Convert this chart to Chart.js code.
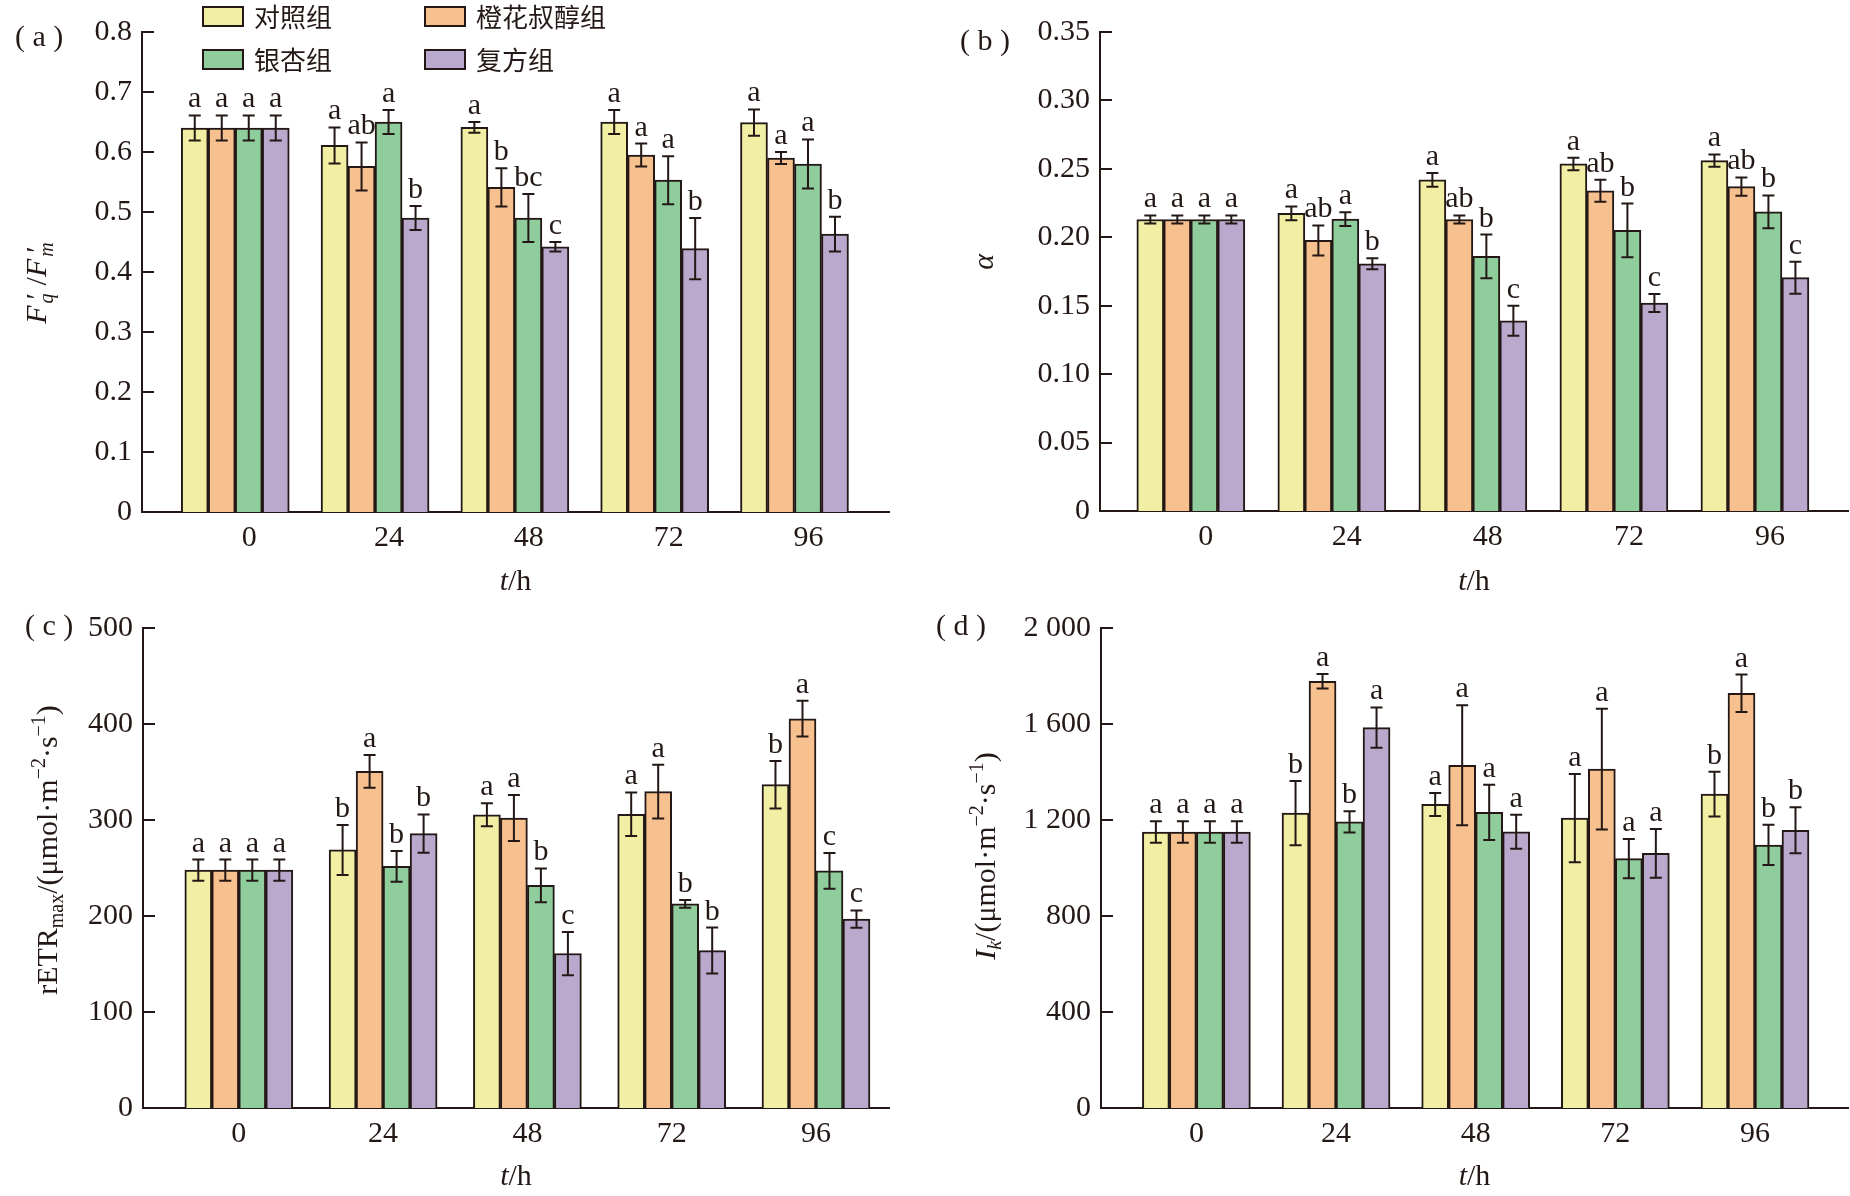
<!DOCTYPE html>
<html><head><meta charset="utf-8">
<script src="https://cdn.jsdelivr.net/npm/chart.js@4.4.1/dist/chart.umd.min.js"></script>
<style>
html,body{margin:0;padding:0;background:#fff;width:1850px;height:1196px;overflow:hidden}
.p{position:absolute}
</style></head><body>
<div class="p" style="left:0;top:0"><canvas id="ca" width="925" height="600"></canvas></div>
<div class="p" style="left:925px;top:0"><canvas id="cb" width="925" height="600"></canvas></div>
<div class="p" style="left:0;top:600px"><canvas id="cc" width="925" height="596"></canvas></div>
<div class="p" style="left:925px;top:600px"><canvas id="cd" width="925" height="596"></canvas></div>
<script>
// ---- categories ----
const times = ['0', '24', '48', '72', '96'];
const groupNames = ['对照组', '橙花叔醇组', '银杏组', '复方组'];
const groupColors = ['#F1EFA4', '#F7C08F', '#8FCD9D', '#B8A9CD'];

// ---- (a) Fq'/Fm' ----
const fqCtrl = [0.640, 0.611, 0.641, 0.650, 0.649];
const fqNer  = [0.640, 0.576, 0.541, 0.595, 0.590];
const fqGin  = [0.640, 0.650, 0.490, 0.553, 0.580];
const fqCmp  = [0.640, 0.490, 0.442, 0.439, 0.463];
const fqCtrlErr = [0.021, 0.030, 0.009, 0.020, 0.022];
const fqNerErr  = [0.021, 0.040, 0.032, 0.019, 0.010];
const fqGinErr  = [0.021, 0.020, 0.040, 0.040, 0.041];
const fqCmpErr  = [0.021, 0.020, 0.008, 0.051, 0.029];
const fqCtrlSig = ['a', 'a', 'a', 'a', 'a'];
const fqNerSig  = ['a', 'ab', 'b', 'a', 'a'];
const fqGinSig  = ['a', 'a', 'bc', 'a', 'a'];
const fqCmpSig  = ['a', 'b', 'c', 'b', 'b'];

// ---- (b) alpha ----
const alCtrl = [0.213, 0.2175, 0.242, 0.2536, 0.256];
const alNer  = [0.213, 0.1977, 0.213, 0.234, 0.237];
const alGin  = [0.213, 0.2133, 0.186, 0.205, 0.2186];
const alCmp  = [0.213, 0.1806, 0.139, 0.152, 0.1705];
const alCtrlErr = [0.003, 0.005, 0.005, 0.0046, 0.0045];
const alNerErr  = [0.003, 0.011, 0.003, 0.008, 0.0067];
const alGinErr  = [0.003, 0.005, 0.016, 0.0196, 0.012];
const alCmpErr  = [0.003, 0.004, 0.011, 0.0066, 0.0117];
const alCtrlSig = ['a', 'a', 'a', 'a', 'a'];
const alNerSig  = ['a', 'ab', 'ab', 'ab', 'ab'];
const alGinSig  = ['a', 'a', 'b', 'b', 'b'];
const alCmpSig  = ['a', 'b', 'c', 'c', 'c'];

// ---- (c) rETRmax ----
const reCtrl = [247.8, 268.8, 305.5, 306.0, 336.8];
const reNer  = [247.8, 350.6, 302.0, 329.6, 405.5];
const reGin  = [247.8, 251.8, 232.0, 212.6, 247.0];
const reCmp  = [247.8, 285.8, 160.9, 164.0, 196.8];
const reCtrlErr = [11, 26, 12, 22.7, 24.7];
const reNerErr  = [11, 17, 24, 28, 18.6];
const reGinErr  = [11, 16, 17.6, 4, 18.6];
const reCmpErr  = [11, 20, 22.5, 24, 9];
const reCtrlSig = ['a', 'b', 'a', 'a', 'b'];
const reNerSig  = ['a', 'a', 'a', 'a', 'a'];
const reGinSig  = ['a', 'b', 'b', 'b', 'c'];
const reCmpSig  = ['a', 'b', 'c', 'b', 'c'];

// ---- (d) Ik ----
const ikCtrl = [1150, 1229, 1265, 1208, 1308];
const ikNer  = [1150, 1778, 1428, 1412, 1728];
const ikGin  = [1150, 1192, 1232, 1039, 1096];
const ikCmp  = [1150, 1585, 1151, 1061, 1157];
const ikCtrlErr = [45, 134, 48, 184, 93];
const ikNerErr  = [45, 30, 250, 252, 78];
const ikGinErr  = [45, 44, 115, 82, 84];
const ikCmpErr  = [45, 84, 71, 102, 96];
const ikCtrlSig = ['a', 'b', 'a', 'a', 'b'];
const ikNerSig  = ['a', 'a', 'a', 'a', 'a'];
const ikGinSig  = ['a', 'b', 'a', 'a', 'b'];
const ikCmpSig  = ['a', 'a', 'a', 'a', 'b'];

// ---- drawing helpers ----
const INK = '#231815';
const SERIF = '"Liberation Serif", "Times New Roman", serif';
const CJK = '"Noto Sans CJK SC", sans-serif';

function drawRich(ctx, segs, cx, cy, rotate) {
  let w = 0;
  const items = segs.map(s => {
    const size = s.size || 30;
    const font = (s.it ? 'italic ' : '') + size + 'px ' + SERIF;
    ctx.font = font;
    const width = ctx.measureText(s.t).width;
    const item = { s, font, x: w + (s.pre || 0) };
    w += (s.adv === 0 ? 0 : width) + (s.gap || 0);
    return item;
  });
  ctx.save();
  ctx.translate(cx, cy);
  if (rotate) ctx.rotate(-Math.PI / 2);
  ctx.fillStyle = INK;
  ctx.textBaseline = 'alphabetic';
  ctx.textAlign = 'left';
  items.forEach(it => { ctx.font = it.font; ctx.fillText(it.s.t, it.x - w / 2, it.s.dy || 0); });
  ctx.restore();
}

const decor = {
  id: 'decor',
  afterDatasetsDraw(chart, args, o) {
    const ctx = chart.ctx, ys = chart.scales.y;
    ctx.save();
    ctx.strokeStyle = INK; ctx.lineWidth = 2;
    ctx.fillStyle = INK;
    ctx.font = '30px ' + SERIF;
    ctx.textAlign = 'center'; ctx.textBaseline = 'alphabetic';
    chart.data.datasets.forEach((ds, di) => {
      const meta = chart.getDatasetMeta(di);
      meta.data.forEach((bar, i) => {
        const v = ds.data[i].y, e = o.errors[di][i];
        const x = bar.x;
        const yt = ys.getPixelForValue(v + e), yb = ys.getPixelForValue(v - e);
        ctx.beginPath();
        ctx.moveTo(x, yt); ctx.lineTo(x, yb);
        ctx.moveTo(x - 6, yt); ctx.lineTo(x + 6, yt);
        ctx.moveTo(x - 6, yb); ctx.lineTo(x + 6, yb);
        ctx.stroke();
        ctx.fillText(o.letters[di][i], x, yt - 8);
      });
    });
    ctx.restore();
  },
  afterDraw(chart, args, o) {
    const ctx = chart.ctx, ys = chart.scales.y, ca = chart.chartArea;
    ctx.save();
    ctx.strokeStyle = INK; ctx.lineWidth = 2;
    ys.ticks.forEach(t => {
      const y = Math.round(ys.getPixelForValue(t.value));
      ctx.beginPath(); ctx.moveTo(ca.left, y); ctx.lineTo(ca.left + 12, y); ctx.stroke();
    });
    ctx.restore();
    drawRich(ctx, o.yTitle, o.yTitleX, o.yTitleY, true);
    drawRich(ctx, [{ t: 't', it: true }, { t: '/h' }], (ca.left + ca.right) / 2, o.xTitleBase, false);
    ctx.save();
    ctx.fillStyle = INK; ctx.font = '30px ' + SERIF;
    ctx.textAlign = 'left'; ctx.textBaseline = 'middle';
    ctx.fillText(o.panel, o.panelX, o.panelY);
    ctx.restore();
    if (o.legend) {
      ctx.save();
      chart.data.datasets.forEach((ds, di) => {
        const bx = o.legend.cols[di % 2], by = o.legend.rows[Math.floor(di / 2)];
        ctx.fillStyle = ds.backgroundColor;
        ctx.fillRect(bx, by, 40, 19);
        ctx.strokeStyle = INK; ctx.lineWidth = 2;
        ctx.strokeRect(bx, by, 40, 19);
        ctx.fillStyle = INK; ctx.font = '26px ' + CJK;
        ctx.textAlign = 'left'; ctx.textBaseline = 'middle';
        ctx.fillText(ds.label, bx + 51, by + 10);
      });
      ctx.restore();
    }
  }
};

function makeChart(id, p) {
  const datasets = p.values.map((vals, di) => ({
    label: groupNames[di],
    data: vals.map((v, i) => ({ x: i, y: v })),
    backgroundColor: groupColors[di],
    borderColor: INK,
    borderWidth: 2,
    borderSkipped: 'bottom',
    barThickness: 27
  }));
  return new Chart(document.getElementById(id), {
    type: 'bar',
    data: { datasets },
    plugins: [decor],
    options: {
      responsive: false,
      animation: false,
      devicePixelRatio: 1,
      layout: { padding: { top: p.padTop, right: p.padRight, left: 0, bottom: 0 } },
      plugins: {
        legend: { display: false },
        tooltip: { enabled: false },
        decor: {
          errors: p.errors, letters: p.letters,
          yTitle: p.yTitle, yTitleX: p.yTitleX, yTitleY: p.yTitleY,
          xTitleBase: p.xTitleBase, panel: p.panel, panelX: p.panelX, panelY: p.panelY,
          legend: p.legend || null
        }
      },
      scales: {
        x: {
          type: 'linear', min: p.xMin, max: p.xMax, offset: false,
          grid: { display: false, drawTicks: false, offset: false },
          border: { display: true, width: 2, color: INK },
          afterBuildTicks: s => { s.ticks = times.map((t, i) => ({ value: i })); },
          afterFit: s => { s.height = p.bottomH; },
          ticks: {
            autoSkip: false, maxRotation: 0, padding: p.xTickPad, labelOffset: p.labelOffset,
            color: INK, font: { family: SERIF, size: 30 },
            callback: v => times[v]
          }
        },
        y: {
          min: p.yMin, max: p.yMax,
          grid: { display: false, drawTicks: false },
          border: { display: true, width: 2, color: INK },
          afterFit: s => { s.width = p.leftW; },
          ticks: {
            stepSize: p.yStep, padding: 10, color: INK,
            font: { family: SERIF, size: 30 },
            callback: p.yFmt
          }
        }
      }
    }
  });
}

const numSpace = v => {
  const s = String(Math.round(v));
  return s.length > 3 ? s.slice(0, s.length - 3) + ' ' + s.slice(-3) : s;
};
const unitTail = [
  { t: '/(μmol·m' }, { t: '−2', size: 20, dy: -12 }, { t: '·s' }, { t: '−1', size: 20, dy: -12 }, { t: ')' }
];

makeChart('ca', {
  values: [fqCtrl, fqNer, fqGin, fqCmp],
  errors: [fqCtrlErr, fqNerErr, fqGinErr, fqCmpErr],
  letters: [fqCtrlSig, fqNerSig, fqGinSig, fqCmpSig],
  yMin: 0, yMax: 0.8, yStep: 0.1, yFmt: v => v === 0 ? '0' : v.toFixed(1),
  xMin: -0.667, xMax: 4.676, leftW: 142, padRight: 36, padTop: 32, bottomH: 88,
  xTickPad: 8, labelOffset: 14,
  yTitle: [{ t: 'F', it: true, gap: 2 }, { t: '′', adv: 0, pre: 4 }, { t: 'q', it: true, size: 20, dy: 7, gap: 8 },
           { t: '/' }, { t: 'F', it: true, gap: 2 }, { t: '′', adv: 0, pre: 4 }, { t: 'm', it: true, size: 20, dy: 7, gap: 6 }],
  yTitleX: 46, yTitleY: 280, xTitleBase: 590,
  panel: '( a )', panelX: 15, panelY: 38,
  legend: { cols: [203, 425], rows: [7, 50] }
});

makeChart('cb', {
  values: [alCtrl, alNer, alGin, alCmp],
  errors: [alCtrlErr, alNerErr, alGinErr, alCmpErr],
  letters: [alCtrlSig, alNerSig, alGinSig, alCmpSig],
  yMin: 0, yMax: 0.35, yStep: 0.05, yFmt: v => v === 0 ? '0' : v.toFixed(2),
  xMin: -0.644, xMax: 4.66, leftW: 175, padRight: 2, padTop: 32, bottomH: 89,
  xTickPad: 8, labelOffset: 15,
  yTitle: [{ t: 'α', it: true }],
  yTitleX: 68, yTitleY: 262, xTitleBase: 590,
  panel: '( b )', panelX: 35, panelY: 42
});

makeChart('cc', {
  values: [reCtrl, reNer, reGin, reCmp],
  errors: [reCtrlErr, reNerErr, reGinErr, reCmpErr],
  letters: [reCtrlSig, reNerSig, reGinSig, reCmpSig],
  yMin: 0, yMax: 500, yStep: 100, yFmt: v => String(v),
  xMin: -0.664, xMax: 4.506, leftW: 143, padRight: 36, padTop: 28, bottomH: 88,
  xTickPad: 8, labelOffset: 0,
  yTitle: [{ t: 'rETR' }, { t: 'max', size: 20, dy: 6 }].concat(unitTail),
  yTitleX: 57, yTitleY: 250, xTitleBase: 585,
  panel: '( c )', panelX: 25, panelY: 27
});

makeChart('cd', {
  values: [ikCtrl, ikNer, ikGin, ikCmp],
  errors: [ikCtrlErr, ikNerErr, ikGinErr, ikCmpErr],
  letters: [ikCtrlSig, ikNerSig, ikGinSig, ikCmpSig],
  yMin: 0, yMax: 2000, yStep: 400, yFmt: numSpace,
  xMin: -0.683, xMax: 4.666, leftW: 176, padRight: 2, padTop: 28, bottomH: 88,
  xTickPad: 8, labelOffset: 0,
  yTitle: [{ t: 'I', it: true }, { t: 'k', it: true, size: 20, dy: 6 }].concat(unitTail),
  yTitleX: 70, yTitleY: 256, xTitleBase: 585,
  panel: '( d )', panelX: 11, panelY: 27
});
</script>
</body></html>
